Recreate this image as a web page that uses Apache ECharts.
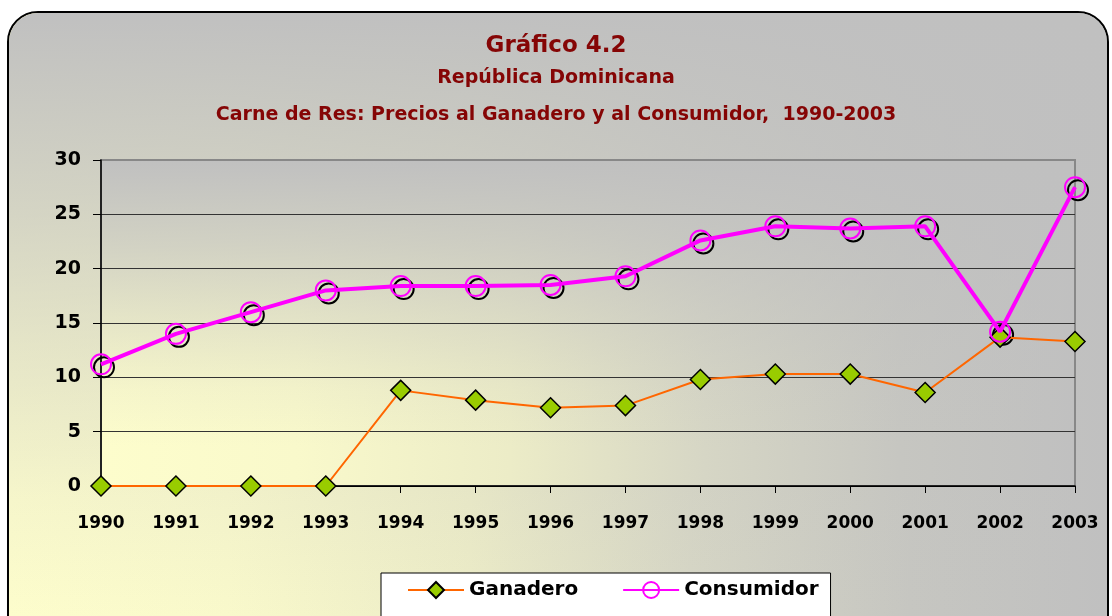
<!DOCTYPE html>
<html>
<head>
<meta charset="utf-8">
<script src="https://cdn.jsdelivr.net/npm/echarts@6/dist/echarts.min.js"></script>
<style>
  html, body { margin: 0; padding: 0; background: #fff; }
  #chart { width: 1112px; height: 616px; }
</style>
</head>
<body>
<div id="chart"></div>
<script>
// datos
const years = ['1990', '1991', '1992', '1993', '1994', '1995', '1996', '1997', '1998', '1999', '2000', '2001', '2002', '2003'];
const ganadero = [0, 0, 0, 0, 8.8, 7.9, 7.2, 7.4, 9.8, 10.3, 10.3, 8.6, 13.7, 13.3];
const consumidor = [11.2, 14.0, 16.0, 18.0, 18.4, 18.4, 18.5, 19.3, 22.6, 23.9, 23.7, 23.9, 14.2, 27.5];
const yTicks = [0, 5, 10, 15, 20, 25, 30];

const darkRed = '#850505';
const font = 'DejaVu Sans';

// area del grafico (px)
const plot = { left: 101, top: 160, right: 1075, bottom: 486 };

// degradado horizontal amarillo -> gris
function horiz(x0, x1) {
  return new echarts.graphic.LinearGradient(x0, 0, x1, 0, [
    { offset: 0, color: '#fdfdcc' },
    { offset: 0.2, color: '#f9f9cb' },
    { offset: 0.42, color: '#ececc7' },
    { offset: 0.62, color: '#d6d6c5' },
    { offset: 0.82, color: '#c6c6c1' },
    { offset: 1, color: '#c0c0c0' }
  ], true)
}
// velo gris vertical (arriba opaco, abajo transparente)
function velo(y0, y1) {
  return new echarts.graphic.LinearGradient(0, y0, 0, y1, [
    { offset: 0, color: 'rgba(192,192,192,1)' },
    { offset: 0.3, color: 'rgba(192,192,192,0.7)' },
    { offset: 0.55, color: 'rgba(192,192,192,0.4)' },
    { offset: 0.8, color: 'rgba(192,192,192,0.12)' },
    { offset: 1, color: 'rgba(192,192,192,0)' }
  ], true)
}

let myChart = echarts.init(document.getElementById('chart'));

let option = {
  backgroundColor: '#fff',
  textStyle: { fontFamily: font },
  graphic: [
    {
      type: 'rect',
      z: -10,
      shape: { x: 8, y: 12, width: 1100, height: 640, r: 30 },
      style: { fill: horiz(8, 1108), stroke: '#000', lineWidth: 2 }
    },
    {
      type: 'rect',
      z: -9,
      shape: { x: 9, y: 13, width: 1098, height: 638, r: 29 },
      style: { fill: velo(12, 616) }
    },
    {
      type: 'rect',
      z: -8,
      shape: { x: plot.left, y: plot.top, width: plot.right - plot.left, height: plot.bottom - plot.top },
      style: { fill: horiz(plot.left, plot.right) }
    },
    {
      type: 'rect',
      z: -7,
      shape: { x: plot.left, y: plot.top, width: plot.right - plot.left, height: plot.bottom - plot.top },
      style: { fill: velo(plot.top, plot.bottom - 40) }
    }
  ],
  title: [
    {
      text: 'Gráfico 4.2',
      left: 'center',
      top: 35,
      padding: [0, 0, 0, 20],
      textStyle: { color: darkRed, fontSize: 23, fontWeight: 'bold', fontFamily: font }
    },
    {
      text: 'República Dominicana',
      left: 'center',
      top: 69,
      padding: [0, 0, 0, 20],
      textStyle: { color: darkRed, fontSize: 19, fontWeight: 'bold', fontFamily: font }
    },
    {
      text: 'Carne de Res: Precios al Ganadero y al Consumidor,  1990-2003',
      left: 'center',
      top: 106,
      padding: [0, 0, 0, 20],
      textStyle: { color: darkRed, fontSize: 19, fontWeight: 'bold', fontFamily: font }
    }
  ],
  legend: {
    data: ['Ganadero', 'Consumidor'],
    left: 381,
    top: 573,
    padding: [7, 12, 22, 26],
    itemGap: 44,
    itemWidth: 56,
    itemHeight: 20,
    backgroundColor: '#fff',
    borderColor: '#000',
    borderWidth: 1,
    borderRadius: 0,
    textStyle: { fontSize: 20, fontWeight: 'bold', color: '#000', fontFamily: font }
  },
  grid: {
    left: plot.left,
    right: 1112 - plot.right,
    top: plot.top,
    bottom: 616 - plot.bottom,
    show: true,
    borderWidth: 2,
    borderColor: '#888',
    backgroundColor: 'transparent'
  },
  xAxis: {
    type: 'category',
    boundaryGap: false,
    data: years,
    axisLine: { lineStyle: { color: '#000', width: 1.5 } },
    axisTick: { show: true, length: 7, lineStyle: { color: '#000' } },
    axisLabel: { margin: 29, fontSize: 17, fontWeight: 'bold', color: '#000', fontFamily: font }
  },
  yAxis: {
    type: 'value',
    min: 0,
    max: 30,
    interval: 5,
    axisLine: { show: true, lineStyle: { color: '#000', width: 1.5 } },
    axisTick: { show: true, length: 8, lineStyle: { color: '#000' } },
    axisLabel: {
      margin: 20,
      fontSize: 19,
      fontWeight: 'bold',
      color: '#000',
      fontFamily: font,
      formatter: v => (yTicks.indexOf(v) >= 0 ? String(v) : '')
    },
    splitLine: {
      show: true,
      lineStyle: { color: ['#000', '#333', '#333', '#333', '#333', '#333', '#888'], width: 1 }
    }
  },
  series: [
    {
      // sombra negra de los circulos
      name: 'sombra',
      type: 'line',
      data: consumidor,
      symbol: 'circle',
      symbolSize: 20,
      symbolOffset: [3, 3],
      lineStyle: { width: 0, opacity: 0 },
      itemStyle: { color: 'rgba(0,0,0,0)', borderColor: '#000', borderWidth: 2 },
      silent: true,
      z: 1
    },
    {
      name: 'Ganadero',
      type: 'line',
      data: ganadero,
      symbol: 'diamond',
      symbolSize: 20,
      lineStyle: { color: '#ff6600', width: 2 },
      itemStyle: { color: '#99cc00', borderColor: '#000', borderWidth: 1.5 },
      z: 2
    },
    {
      name: 'Consumidor',
      type: 'line',
      data: consumidor,
      symbol: 'circle',
      symbolSize: 20,
      lineStyle: { color: '#ff00ff', width: 4 },
      itemStyle: { color: 'rgba(0,0,0,0)', borderColor: '#ff00ff', borderWidth: 2 },
      z: 3
    }
  ]
};

myChart.setOption(option);
window.onresize = function () {
  myChart.resize()
}
</script>
</body>
</html>
